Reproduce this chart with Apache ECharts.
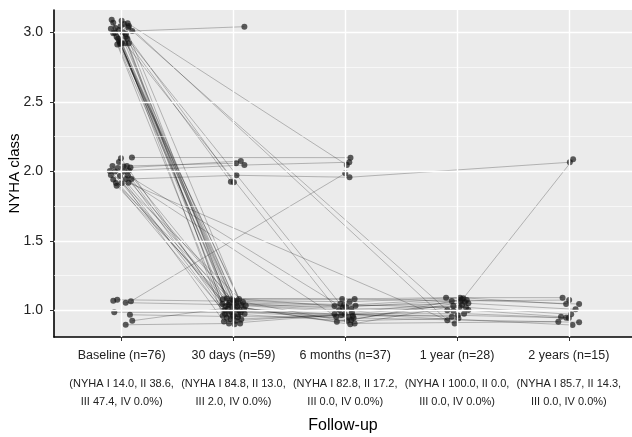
<!DOCTYPE html>
<html>
<head>
<meta charset="utf-8">
<script src="https://cdn.jsdelivr.net/npm/echarts@6/dist/echarts.min.js"></script>
<style>
html, body { margin: 0; padding: 0; background: #fff; }
#chart { width: 632px; height: 437px; }
</style>
</head>
<body>
<div id="chart"></div>
<script>
// x axis: follow-up visits
var visitNames = ['Baseline (n=76)', '30 days (n=59)', '6 months (n=37)', '1 year (n=28)', '2 years (n=15)'];
var visitStats = [
    ['(NYHA I 14.0, II 38.6,', 'III 47.4, IV 0.0%)'],
    ['(NYHA I 84.8, II 13.0,', 'III 2.0, IV 0.0%)'],
    ['(NYHA I 82.8, II 17.2,', 'III 0.0, IV 0.0%)'],
    ['(NYHA I 100.0, II 0.0,', 'III 0.0, IV 0.0%)'],
    ['(NYHA I 85.7, II 14.3,', 'III 0.0, IV 0.0%)']
];
var xTicks = [1, 2, 3, 4, 5];
var yTicks = [1, 1.5, 2, 2.5, 3];
var yMinor = [1.25, 1.75, 2.25, 2.75];

// one entry per patient, [visit + jitter, NYHA class + jitter], null = no data at that visit
var baseline = [
    [0.911,3.089],[1.000,3.082],[0.925,3.069],[1.054,3.065],[1.021,3.060],
    [1.065,3.045],[0.991,3.043],[0.904,3.026],[0.976,3.017],[1.095,3.009],
    [0.940,2.997],[0.925,2.993],[1.038,2.988],[1.036,2.968],[0.970,2.954],
    [1.050,2.954],[0.979,2.935],[1.000,2.921],[0.961,2.911],[1.065,2.921],
    [0.985,2.925],[1.030,2.921],[0.955,2.965],[1.010,3.000],[0.945,3.030],
    [1.060,3.035],[0.990,2.915],[0.994,2.094],[1.092,2.099],[0.976,2.067],
    [0.918,2.038],[1.016,2.035],[1.047,2.038],[1.079,2.027],[0.895,2.002],
    [0.940,1.999],[1.021,1.999],[1.065,2.006],[1.056,1.970],[0.925,1.941],
    [1.088,1.945],[0.949,1.916],[1.000,1.914],[1.061,1.918],[0.955,1.896],
    [0.967,2.024],[0.904,1.973],[1.038,1.945],[0.985,1.966],[0.925,1.069],
    [0.961,1.076],[1.036,1.055],[1.083,1.065],[0.934,0.986],[1.074,0.968],
    [1.036,0.896],[1.095,0.925]
];
var day30 = [
    [1.905,1.080],[1.940,1.085],[2.000,1.070],null,[2.050,1.082],
    null,[1.900,1.045],[1.965,1.055],[2.025,1.050],[2.098,3.040],
    [2.070,1.040],[2.095,1.010],[2.004,1.921],[1.920,1.000],[1.980,0.990],
    null,[2.055,1.000],[1.905,0.960],[1.940,0.945],[1.977,1.925],
    [2.000,0.965],null,[2.045,0.970],[2.020,0.925],[2.060,0.905],
    null,[2.070,0.935],[1.960,0.975],null,[1.930,1.030],
    [1.990,1.030],[2.035,1.025],[2.024,2.058],[2.066,2.074],[2.085,1.060],
    [1.915,0.920],[1.975,0.935],[2.098,2.045],null,[2.010,0.900],
    [2.027,1.971],[2.100,0.975],[1.950,1.010],null,[2.015,1.005],
    [1.985,1.080],[2.040,0.950],null,[1.925,0.975],null,
    [2.030,1.065],[1.955,1.040],null,[2.065,0.985],[1.995,0.955],
    [1.960,0.905],[2.110,1.035]
];
var month6 = [
    [2.973,1.081],[3.084,1.081],[3.039,1.062],[3.014,2.045],[2.904,1.031],
    null,[3.009,1.024],[3.092,1.033],[3.054,1.009],null,
    [2.946,1.002],[2.904,0.973],null,[3.068,0.959],null,
    [2.955,1.045],null,null,null,null,
    null,[2.964,0.966],null,null,null,
    null,null,[3.018,0.925],[3.047,2.098],[3.054,0.930],
    [2.925,0.918],[3.045,0.899],null,null,[3.084,0.906],
    [2.994,0.973],null,[3.036,2.065],[2.979,1.019],null,
    [3.038,1.957],null,null,null,null,
    null,null,[2.919,0.954],null,null,
    [2.990,1.040],[3.060,0.985],[3.000,1.986],[3.075,0.945],[3.030,0.950],
    null,null
];
var year1 = [
    [3.902,1.091],[3.953,1.067],[4.027,1.091],null,[4.056,1.086],
    [3.913,0.928],[4.087,1.074],[4.101,1.050],[4.024,1.024],null,
    [4.101,1.002],[4.063,0.976],null,[4.006,0.964],[3.953,0.954],
    null,null,null,null,null,
    null,null,null,null,null,
    [3.913,1.000],null,[4.012,0.942],null,[4.042,1.079],
    [4.070,1.060],[4.045,1.040],null,null,null,
    null,[3.967,0.997],null,null,null,
    null,null,null,[3.979,0.906],null,
    null,null,null,null,null,
    [4.080,1.020],[4.030,1.065],null,null,null,
    [3.967,1.033],null
];
var year2 = [
    [4.944,1.091],[5.003,1.074],[4.976,1.045],null,[5.038,2.086],
    null,[5.092,1.045],[5.060,1.007],[5.021,0.971],null,
    [4.930,0.954],[4.976,0.947],null,[5.000,0.945],null,
    null,null,null,null,null,
    null,null,null,null,null,
    null,null,null,null,null,
    null,null,null,null,[4.906,0.918],
    [5.033,0.894],null,null,null,null,
    [5.009,2.065],null,null,null,null,
    null,null,null,null,null,
    null,null,null,[5.092,0.914],null,
    null,null
];

var font = "'Liberation Sans', Arial, sans-serif";
var visits = [baseline, day30, month6, year1, year2];

var series = [];

// panel grid lines (white, ggplot style)
var gridLines = [];
yTicks.forEach(function (v) { gridLines.push({ yAxis: v, lineStyle: { color: '#fff', width: 1.4, type: 'solid' } }); });
yMinor.forEach(function (v) { gridLines.push({ yAxis: v, lineStyle: { color: '#fff', width: 0.6, type: 'solid' } }); });
xTicks.forEach(function (v) { gridLines.push({ xAxis: v, lineStyle: { color: '#fff', width: 1.4, type: 'solid' } }); });
series.push({
    type: 'line', data: [], z: 1, silent: true,
    markLine: { silent: true, symbol: 'none', label: { show: false }, animation: false, data: gridLines }
});

// one grey line per patient
for (var i = 0; i < baseline.length; i++) {
    var path = visits.map(function (v) { return v[i]; }).filter(function (p) { return p; });
    series.push({
        type: 'line', data: path, z: 2, silent: true,
        symbol: 'none',
        lineStyle: { color: 'rgba(0,0,0,0.28)', width: 0.9 }
    });
}

// all points
var pts = [];
visits.forEach(function (v) { v.forEach(function (p) { if (p) pts.push(p); }); });
series.push({
    type: 'scatter', data: pts, z: 3, silent: true,
    symbolSize: 6,
    itemStyle: { color: 'rgba(20,20,20,0.85)' }
});

var myChart = echarts.init(document.getElementById('chart'));
myChart.setOption({
    animation: false,
    grid: {
        left: 54, right: 0, top: 10, bottom: 100,
        containLabel: false, outerBoundsMode: 'none',
        show: true, backgroundColor: '#EBEBEB', borderWidth: 0
    },
    xAxis: {
        type: 'value', min: 0.395, max: 5.565,
        splitLine: { show: false },
        axisLine: { show: true, onZero: false, lineStyle: { color: '#000', width: 1.6 } },
        axisTick: { show: true, customValues: xTicks, length: 4, lineStyle: { color: '#333', width: 1 } },
        axisLabel: {
            customValues: xTicks, margin: 10, color: '#222', fontFamily: font,
            showMinLabel: true, showMaxLabel: true,
            formatter: function (v) {
                var k = Math.round(v) - 1;
                return '{a|' + visitNames[k] + '}\n{s| }\n{b|' + visitStats[k][0] + '}\n{b|' + visitStats[k][1] + '}';
            },
            rich: {
                a: { fontSize: 12.5, lineHeight: 18, color: '#222', fontFamily: font },
                s: { fontSize: 2, lineHeight: 10 },
                b: { fontSize: 11, lineHeight: 18, color: '#222', fontFamily: font }
            }
        },
        name: 'Follow-up', nameLocation: 'middle', nameGap: 81,
        nameTextStyle: { fontSize: 16, color: '#000', fontFamily: font }
    },
    yAxis: {
        type: 'value', min: 0.808, max: 3.16,
        splitLine: { show: false },
        axisLine: { show: true, onZero: false, lineStyle: { color: '#000', width: 1.6 } },
        axisTick: { show: true, customValues: yTicks, length: 4, lineStyle: { color: '#333', width: 1 } },
        axisLabel: {
            customValues: yTicks, margin: 11, color: '#222', fontSize: 14, fontFamily: font,
            showMinLabel: true, showMaxLabel: true,
            formatter: function (v) { return v.toFixed(1); }
        },
        name: 'NYHA class', nameLocation: 'middle', nameGap: 32, nameMoveOverlap: false,
        nameTextStyle: { fontSize: 15, color: '#000', fontFamily: font }
    },
    series: series
});
</script>
</body>
</html>
